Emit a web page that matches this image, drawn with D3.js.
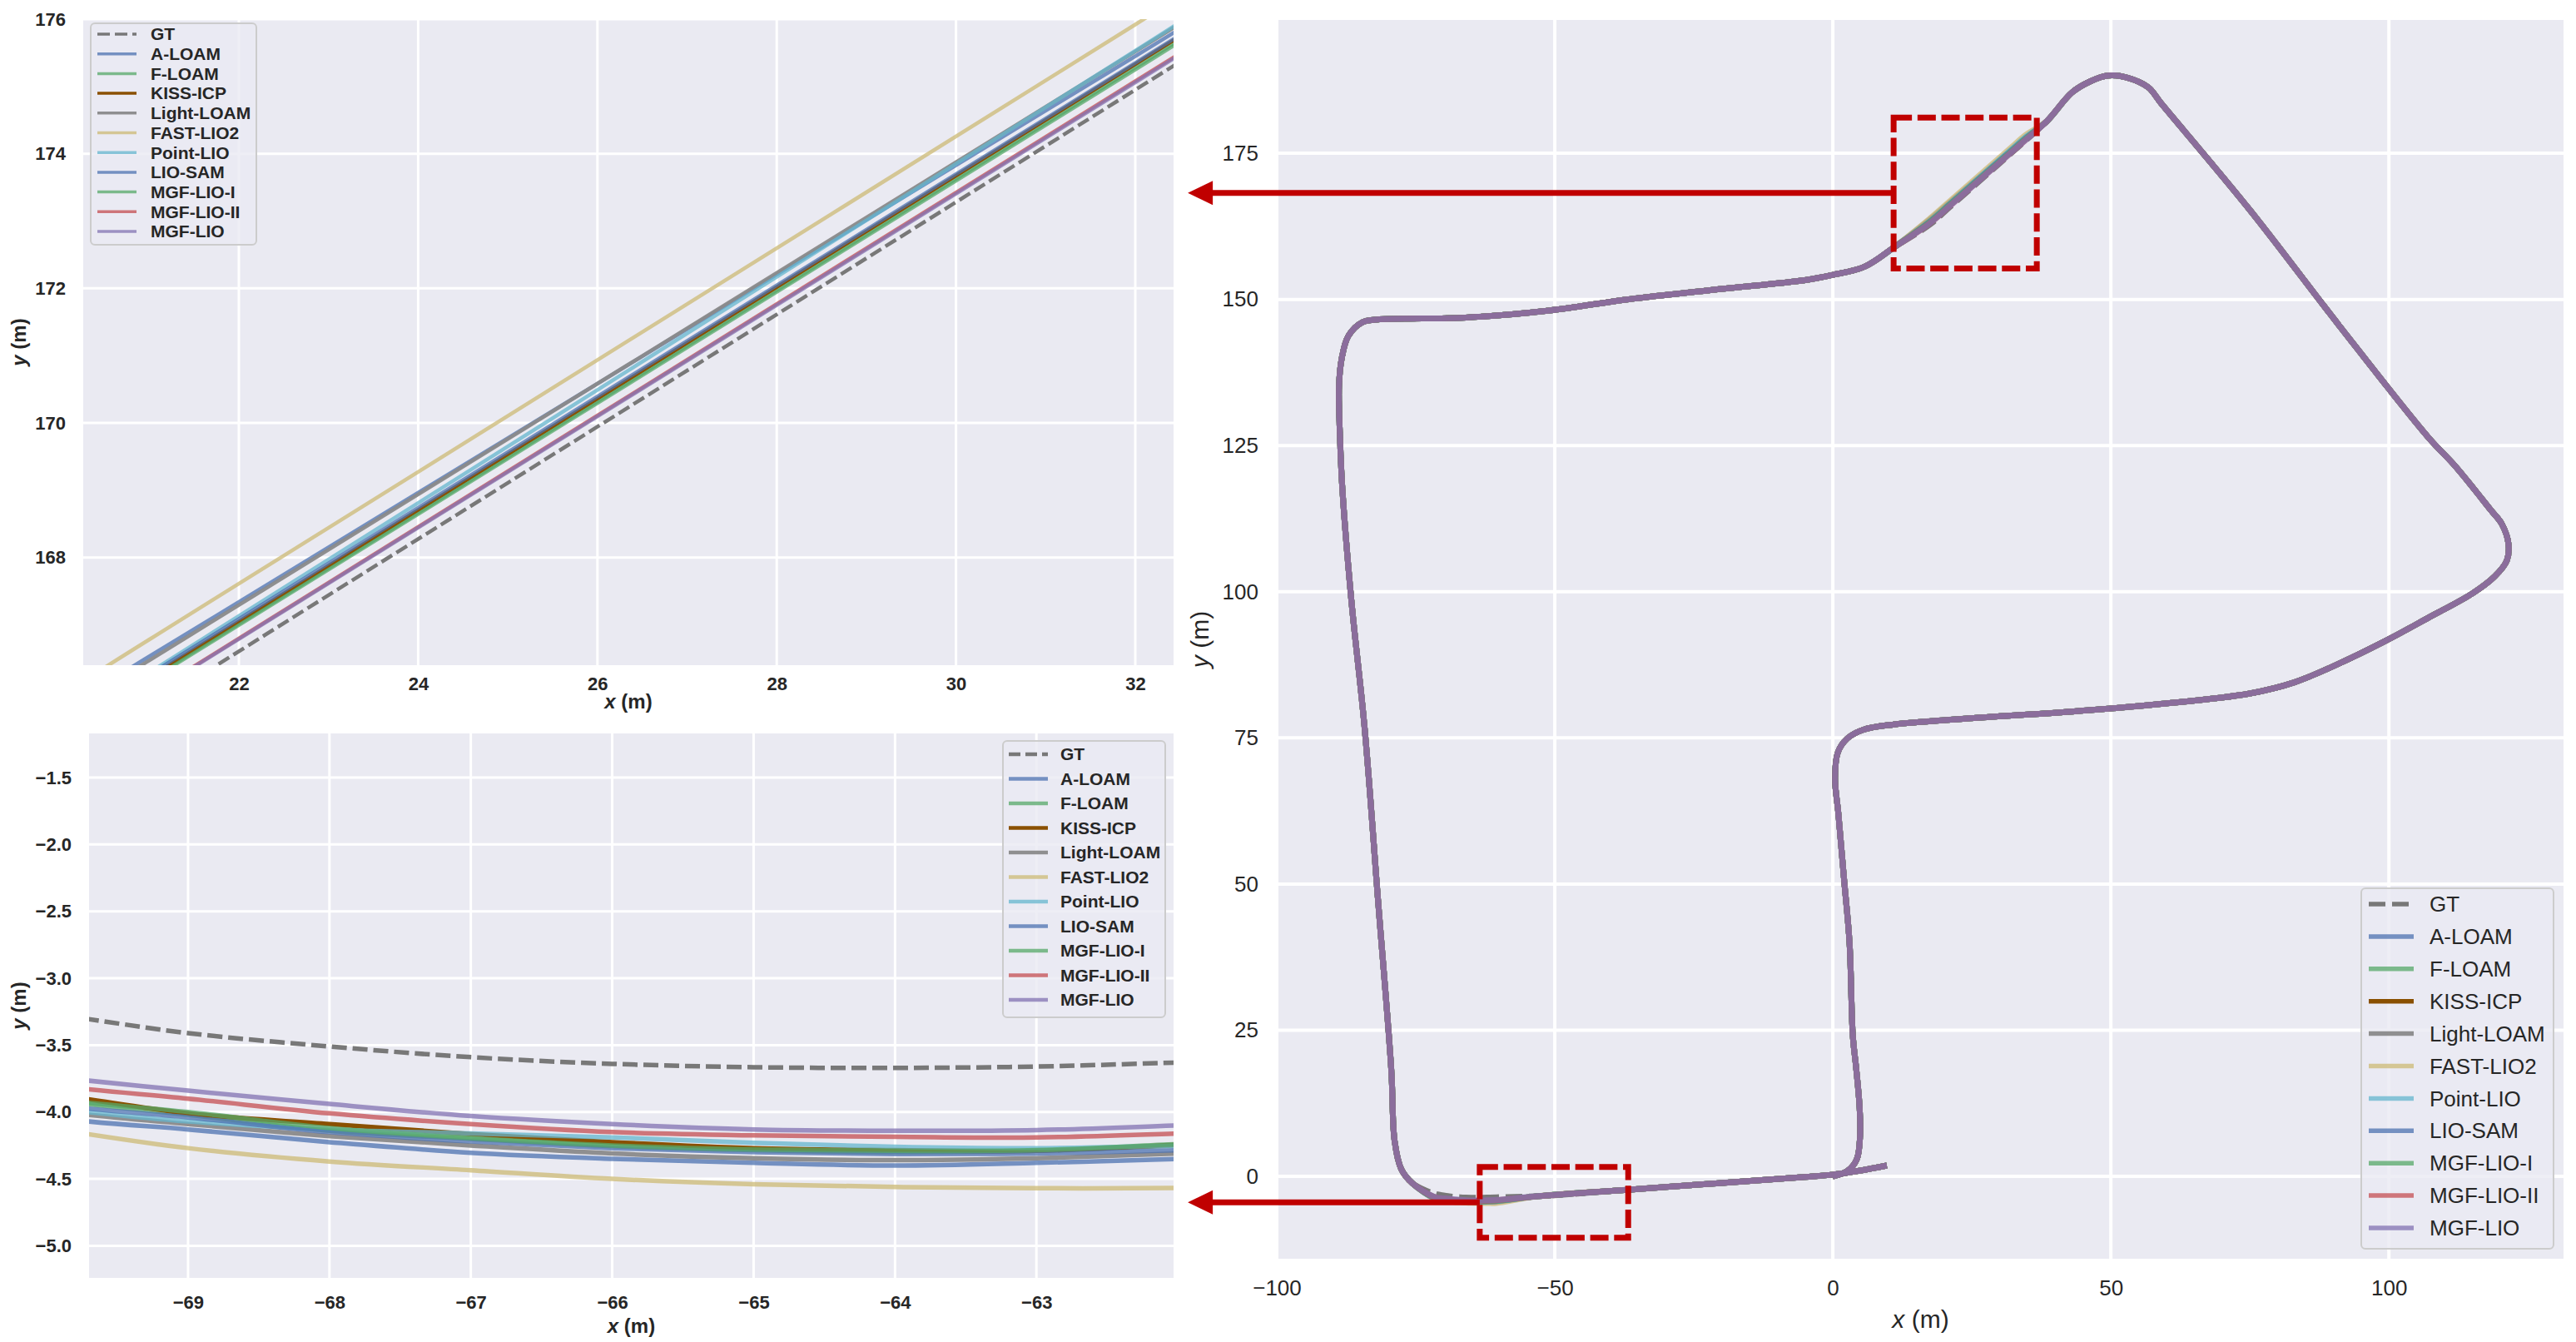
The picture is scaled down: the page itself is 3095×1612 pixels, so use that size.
<!DOCTYPE html>
<html>
<head>
<meta charset="utf-8">
<script src="https://cdn.jsdelivr.net/npm/d3@7"></script>
<style>
	body { margin: 0; background: #fff; }
	svg  { display: block; font-family: "Liberation Sans", Arial, sans-serif; }
</style>
</head>
<body>
<div id="picture"></div>
<script>
const W = 3095, H = 1612;

// runs, in drawing order (last one ends up on top)
const names  = ["GT", "A-LOAM", "F-LOAM", "KISS-ICP", "Light-LOAM", "FAST-LIO2",
                "Point-LIO", "LIO-SAM", "MGF-LIO-I", "MGF-LIO-II", "MGF-LIO"];
const colors = ["#787878", "#4c72b0", "#55a868", "#8a5000", "#8a8a8a", "#ccb974",
                "#64b5cd", "#4c72b0", "#55a868", "#c44e52", "#8172b2"];
const alphas = [1, .75, .75, 1, .95, .75, .75, .75, .75, .75, .75];

const routeA = [[0, 0], [2.6, 0.9], [4.3, 2.9], [4.9, 7], [4.8, 12], [4.2, 18.5], [3.6, 24],
	[3.0, 40], [2.0, 51], [1.0, 62], [0.4, 68], [0.9, 72.5], [2.6, 74.9], [5.5, 76.4],
	[11, 77.3], [27, 78.5], [43, 79.5], [59, 80.8], [75, 82.6], [83, 84.5], [91, 87.7],
	[99, 91.4], [107, 95.5], [115, 99.7], [119, 102.6], [121.2, 105.3], [121.5, 108.2],
	[120.3, 111.6], [118.3, 114], [112, 121.4], [107, 126.5], [91, 145.6], [75, 165.3],
	[59, 183.6], [56.7, 186.3], [52.7, 188], [49.5, 188.3], [46.3, 187.3], [43, 185.4],
	[38.5, 180.5]];
const routeB = [[11, 158.9], [5.7, 155.6], [0, 154.2], [-5, 153.3], [-21, 151.7],
	[-37, 150.0], [-51, 148.1], [-66, 146.9], [-77, 146.7], [-81.5, 146.6], [-84.6, 146.1],
	[-87.1, 143.8], [-88.3, 140], [-88.8, 135.3], [-88.6, 125.7], [-88.2, 117.6],
	[-86.6, 98.7], [-84.2, 76.7], [-81.8, 47.4], [-79.4, 18.2], [-78.8, 6.0], [-77.6, 1.2],
	[-75.6, -1.2]];
const routeC = [[-53, -3.4], [-37, -2.3], [-21, -1.2], [-5, -0.1], [0, 0.3], [5, 1.0], [9.7, 1.85]];

// upper inset: y of each run at these x (travel order)
const upperX = [34.5, 32, 21, 17.5];
const upperY = [
	[177.04, 174.95, 165.77, 162.84],
	[177.48, 175.45, 166.53, 163.69],
	[177.37, 175.28, 166.19, 163.30],
	[177.40, 175.33, 166.22, 163.32],
	[177.57, 175.52, 166.47, 163.60],
	[178.00, 175.92, 166.78, 163.87],
	[177.63, 175.53, 166.29, 163.35],
	[177.41, 175.35, 166.26, 163.37],
	[177.34, 175.25, 166.17, 163.27],
	[177.15, 175.08, 165.97, 163.07],
	[177.13, 175.06, 165.96, 163.06]
];

// lower inset: y of each run at these x
const lowerX = [-71.5, -69.8, -69, -68, -67, -66, -65, -64, -63, -62, -60.5];
const lowerY = [
	[-3.02, -3.29, -3.41, -3.51, -3.59, -3.64, -3.665, -3.67, -3.66, -3.63, -3.58],
	[-3.82, -4.06, -4.13, -4.225, -4.305, -4.35, -4.38, -4.40, -4.38, -4.35, -4.30],
	[-3.70, -3.93, -4.02, -4.14, -4.20, -4.255, -4.285, -4.30, -4.29, -4.25, -4.19],
	[-3.62, -3.89, -4.01, -4.09, -4.165, -4.225, -4.27, -4.285, -4.29, -4.245, -4.18],
	[-3.80, -4.01, -4.09, -4.18, -4.25, -4.31, -4.345, -4.36, -4.345, -4.31, -4.26],
	[-3.85, -4.15, -4.27, -4.37, -4.435, -4.50, -4.54, -4.56, -4.57, -4.567, -4.55],
	[-3.78, -3.99, -4.07, -4.13, -4.16, -4.19, -4.23, -4.26, -4.27, -4.25, -4.21],
	[-3.74, -3.965, -4.04, -4.15, -4.22, -4.27, -4.30, -4.315, -4.31, -4.285, -4.24],
	[-3.70, -3.92, -4.00, -4.12, -4.195, -4.25, -4.28, -4.29, -4.285, -4.24, -4.18],
	[-3.62, -3.82, -3.90, -4.01, -4.09, -4.15, -4.175, -4.185, -4.19, -4.16, -4.10],
	[-3.56, -3.755, -3.84, -3.94, -4.03, -4.09, -4.13, -4.14, -4.135, -4.10, -4.04]
];

// ticks
const ticks1X = [22, 24, 26, 28, 30, 32],     ticks1Y = [168, 170, 172, 174, 176];
const ticks2X = [-69, -68, -67, -66, -65, -64, -63];
const ticks2Y = [-1.5, -2.0, -2.5, -3.0, -3.5, -4.0, -4.5, -5.0];
const ticks3X = [-100, -50, 0, 50, 100],     ticks3Y = [0, 25, 50, 75, 100, 125, 150, 175];

// zoom boxes on the big panel (m) and where the arrows end
const boxes = [
	{x0: 10.93, x1: 36.68, y0: 155.3, y1: 181.1},
	{x0: -63.5, x1: -36.8, y0: -10.5, y1: 1.6}
];
const arrowTipX = -116;

function track(i) {
	return routeA
		.concat(upperX.map((x, k) => [x, upperY[i][k]]))
		.concat(routeB)
		.concat(lowerX.map((x, k) => [x, lowerY[i][k]]))
		.concat(routeC);
}
const tracks = names.map((n, i) => track(i));

const svg = d3.select("#picture")
	.append("svg")
		.attr("width", W)
		.attr("height", H);
svg.append("rect").attr("width", W).attr("height", H).attr("fill", "#fff");

function panel(p, id) {
	const x = d3.scaleLinear().domain(p.xDom).range([p.left, p.right]);
	const y = d3.scaleLinear().domain(p.yDom).range([p.bottom, p.top]);
	const g = svg.append("g");

	g.append("rect")
		.attr("x", p.left).attr("y", p.top)
		.attr("width", p.right - p.left).attr("height", p.bottom - p.top)
		.attr("fill", "#eaeaf2");

	// grid
	g.append("g").selectAll("line").data(p.xTicks).join("line")
		.attr("x1", d => x(d)).attr("x2", d => x(d))
		.attr("y1", p.top).attr("y2", p.bottom)
		.attr("stroke", "#fff").attr("stroke-width", p.grid);
	g.append("g").selectAll("line").data(p.yTicks).join("line")
		.attr("x1", p.left).attr("x2", p.right)
		.attr("y1", d => y(d)).attr("y2", d => y(d))
		.attr("stroke", "#fff").attr("stroke-width", p.grid);

	svg.append("clipPath").attr("id", id)
		.append("rect")
			.attr("x", p.left).attr("y", p.top)
			.attr("width", p.right - p.left).attr("height", p.bottom - p.top);

	const line = d3.line()
		.x(d => x(d[0]))
		.y(d => y(d[1]))
		.curve(d3.curveCatmullRom.alpha(0.5));

	g.append("g").attr("clip-path", "url(#" + id + ")")
		.selectAll("path").data(tracks).join("path")
			.attr("d", line)
			.attr("fill", "none")
			.attr("stroke", (d, i) => colors[i])
			.attr("stroke-opacity", (d, i) => alphas[i])
			.attr("stroke-width", p.lw)
			.attr("stroke-dasharray", (d, i) => i == 0 ? p.dash : null);

	// axes
	const ax = g.append("g")
		.attr("transform", "translate(0," + p.bottom + ")")
		.call(d3.axisBottom(x).tickValues(p.xTicks).tickFormat(p.xFmt)
			.tickSize(0).tickPadding(p.xPad));
	const ay = g.append("g")
		.attr("transform", "translate(" + p.left + ",0)")
		.call(d3.axisLeft(y).tickValues(p.yTicks).tickFormat(p.yFmt)
			.tickSize(0).tickPadding(p.yPad));
	[ax, ay].forEach(a => {
		a.select(".domain").remove();
		a.attr("font-family", null).attr("font-size", null);
		a.selectAll("text")
			.attr("fill", "#262626")
			.style("font-size", p.font + "px")
			.style("font-weight", p.weight);
	});

	// axis labels
	const xl = g.append("text")
		.attr("x", (p.left + p.right) / 2)
		.attr("y", p.xLabelY)
		.attr("dy", "0.35em")
		.attr("text-anchor", "middle")
		.attr("fill", "#262626")
		.style("font-size", p.labelFont + "px")
		.style("font-weight", p.weight);
	xl.append("tspan").style("font-style", "italic").text("x");
	xl.append("tspan").text(" (m)");

	const yl = g.append("text")
		.attr("transform", "translate(" + p.yLabelX + "," + (p.top + p.bottom) / 2 + ") rotate(-90)")
		.attr("dy", "0.35em")
		.attr("text-anchor", "middle")
		.attr("fill", "#262626")
		.style("font-size", p.labelFont + "px")
		.style("font-weight", p.weight);
	yl.append("tspan").style("font-style", "italic").text("y");
	yl.append("tspan").text(" (m)");

	// legend
	const L = p.legend;
	const lg = g.append("g");
	lg.append("rect")
		.attr("x", L.x).attr("y", L.y).attr("width", L.w).attr("height", L.h)
		.attr("rx", 5)
		.attr("fill", "#eaeaf2").attr("fill-opacity", 0.8)
		.attr("stroke", "#cccccc").attr("stroke-width", 2);
	const item = lg.selectAll("g").data(names).join("g")
		.attr("transform", (d, i) => "translate(0," + (L.first + i * L.step) + ")");
	item.append("line")
		.attr("x1", L.h0).attr("x2", L.h1)
		.attr("stroke", (d, i) => colors[i])
		.attr("stroke-opacity", (d, i) => alphas[i])
		.attr("stroke-width", L.lw)
		.attr("stroke-dasharray", (d, i) => i == 0 ? L.dash : null);
	item.append("text")
		.attr("x", L.tx)
		.attr("dy", "0.35em")
		.attr("fill", "#262626")
		.style("font-size", L.font + "px")
		.style("font-weight", p.weight)
		.text(d => d);

	return {x, y};
}

// upper inset
panel({
	left: 100, right: 1410, top: 23, bottom: 799,
	xDom: [20.264, 32.427], yDom: [166.40, 176.0],
	xTicks: ticks1X, yTicks: ticks1Y,
	xFmt: d3.format("d"), yFmt: d3.format("d"),
	xPad: 14, yPad: 21, font: 22, labelFont: 24, weight: "bold",
	xLabelY: 843, yLabelX: 23,
	lw: 4.5, grid: 3, dash: "15,6",
	legend: {x: 109, y: 28, w: 199, h: 266, first: 41, step: 23.7,
		h0: 117, h1: 164, tx: 181, font: 21, lw: 3.5, dash: "15,6"}
}, "clip1");

// lower inset
panel({
	left: 107, right: 1410, top: 881, bottom: 1535,
	xDom: [-69.70, -62.03], yDom: [-5.24, -1.17],
	xTicks: ticks2X, yTicks: ticks2Y,
	xFmt: d3.format("d"), yFmt: d3.format(".1f"),
	xPad: 21, yPad: 21, font: 22, labelFont: 24, weight: "bold",
	xLabelY: 1593, yLabelX: 23,
	lw: 5.5, grid: 3, dash: "18,7",
	legend: {x: 1205, y: 890, w: 195, h: 332, first: 906, step: 29.5,
		h0: 1212, h1: 1259, tx: 1274, font: 21, lw: 4.5, dash: "14,6"}
}, "clip2");

// whole trajectory
const big = panel({
	left: 1535, right: 3080, top: 24, bottom: 1512,
	xDom: [-99.85, 131.4], yDom: [-14.1, 197.8],
	xTicks: ticks3X, yTicks: ticks3Y,
	xFmt: d3.format("d"), yFmt: d3.format("d"),
	xPad: 26, yPad: 23, font: 26, labelFont: 30, weight: "normal",
	xLabelY: 1584, yLabelX: 1441,
	lw: 7, grid: 4, dash: "20,8",
	legend: {x: 2837, y: 1067, w: 231, h: 433, first: 1086, step: 38.9,
		h0: 2846, h1: 2900, tx: 2919, font: 26, lw: 5.5, dash: "20,8"}
}, "clip3");

// zoom boxes and arrows
const red = "#c00000";
boxes.forEach(b => {
	const x0 = big.x(b.x0), x1 = big.x(b.x1), y0 = big.y(b.y1), y1 = big.y(b.y0);
	const ym = (y0 + y1) / 2, tip = big.x(arrowTipX);
	svg.append("line")
		.attr("x1", x0).attr("x2", tip + 29)
		.attr("y1", ym).attr("y2", ym)
		.attr("stroke", red).attr("stroke-width", 7);
	svg.append("path")
		.attr("d", "M" + tip + "," + ym + "L" + (tip + 30) + "," + (ym - 14.5) +
			"L" + (tip + 30) + "," + (ym + 14.5) + "Z")
		.attr("fill", red);
	svg.append("rect")
		.attr("x", x0).attr("y", y0)
		.attr("width", x1 - x0).attr("height", y1 - y0)
		.attr("fill", "none")
		.attr("stroke", red).attr("stroke-width", 7)
		.attr("stroke-dasharray", "22,6.7");
});
</script>
</body>
</html>
